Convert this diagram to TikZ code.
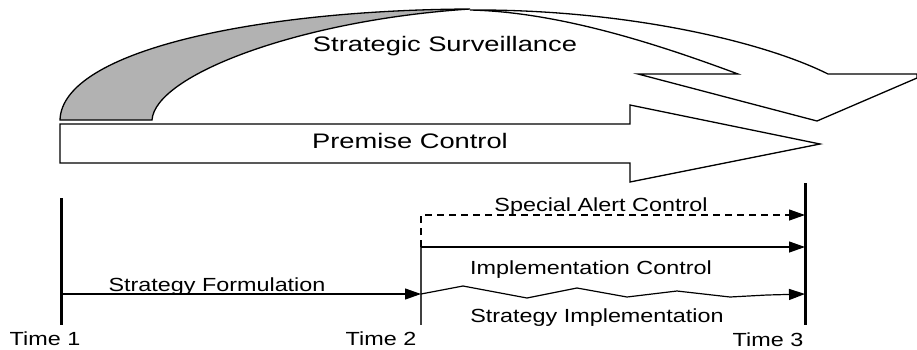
\documentclass[tikz,border=0pt]{standalone}
\usepackage{fontspec}
\setmainfont{Liberation Sans}
\usetikzlibrary{arrows.meta}
\tikzset{lbl/.style={font=\fontsize{19}{19}\selectfont, inner sep=0pt, anchor=base}}
\tikzset{big/.style={font=\fontsize{21}{21}\selectfont, inner sep=0pt, anchor=base}}
\tikzset{flow/.style={-{Triangle[length=16pt,width=11pt]}, line width=1.2pt}}
\tikzset{timeline/.style={line width=3pt}}
\tikzset{band/.style={line width=1.3pt, line join=miter}}
\newcommand{\wlbl}[1]{\scalebox{1.23}[1]{#1}}
\newcommand{\wbig}[1]{\scalebox{1.3}[1]{#1}}

\begin{document}
\begin{tikzpicture}[x=1pt,y=-1pt]
      \useasboundingbox (0,0) rectangle (917,349);
      % strategic surveillance: twisted band
      \filldraw[band, fill=gray!60] (60,120) .. controls (62,50) and (260,10) .. (470,9)
        .. controls (300,20) and (155,75) .. (152,120) -- cycle;
      \draw[band] (817,121) -- (638,74) -- (738,74)
        .. controls (660,45) and (560,12) .. (470,10)
        .. controls (620,9) and (760,40) .. (828,74) -- (917,74) -- (917,78) -- cycle;
      \node[big] (surv) at (445,51) {\wbig{Strategic Surveillance}};
      % premise control
      \draw[band] (60,124) -- (630,124) -- (630,105) -- (820,144) -- (630,182)
        -- (630,163) -- (60,163) -- cycle;
      \node[big] (prem) at (410,148) {\wbig{Premise Control}};
      % time lines
      \coordinate (t1top) at (61,198);
      \coordinate (t1bot) at (61,325);
      \coordinate (t1form) at (61,294);
      \coordinate (t2top) at (421,215);
      \coordinate (t2mid) at (421,247);
      \coordinate (t2form) at (421,294);
      \coordinate (t2bot) at (421,325);
      \coordinate (t3top) at (805,183);
      \coordinate (t3alert) at (805,215);
      \coordinate (t3impl) at (805,247);
      \coordinate (t3strat) at (805,294);
      \coordinate (t3bot) at (805,325);
      \draw[timeline] (t1top) -- (t1bot);
      \draw[timeline] (t3top) -- (t3bot);
      \draw[line width=1.8pt, black!75] (t2mid) -- (t2bot);
      \draw[flow] (t1form) -- (t2form);
      \draw[flow, dash pattern=on 7pt off 5pt] (t2mid) -- (t2top) -- (t3alert);
      \draw[flow] (t2mid) -- (t3impl);
      \draw[flow] (t2form) -- (463,286) -- (527,298) -- (577,288) -- (627,297)
        -- (677,291) -- (730,297) -- (767,295) -- (t3strat);
      % labels
      \node[lbl] (form) at (217,291) {\wlbl{Strategy Formulation}};
      \node[lbl] (alert) at (601,211) {\wlbl{Special Alert Control}};
      \node[lbl] (impl) at (591,274) {\wlbl{Implementation Control}};
      \node[lbl] (strat) at (597,322) {\wlbl{Strategy Implementation}};
      \node[lbl] (time1) at (45,345) {\wlbl{Time 1}};
      \node[lbl] (time2) at (381,345) {\wlbl{Time 2}};
      \node[lbl] (time3) at (768,346) {\wlbl{Time 3}};
    \end{tikzpicture}
\end{document}
